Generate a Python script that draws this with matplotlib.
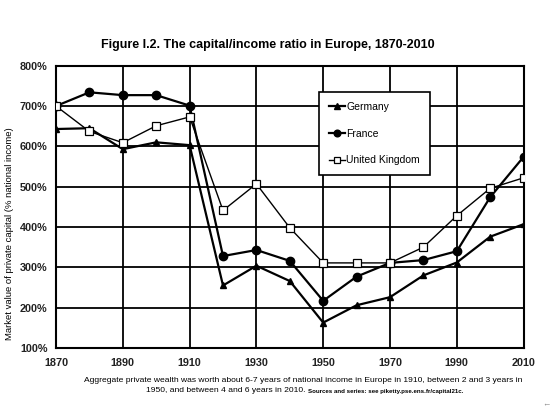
import matplotlib
matplotlib.use("Agg")
import matplotlib.pyplot as plt
from matplotlib.ticker import FuncFormatter

plt.rcParams['font.family'] = ['Liberation Sans', 'DejaVu Sans']

years = [1870, 1880, 1890, 1900, 1910, 1920, 1930, 1940, 1950, 1960, 1970, 1980, 1990, 2000, 2010]
germany = [643, 645, 593, 610, 603, 255, 304, 266, 163, 206, 226, 280, 312, 376, 407]
france = [700, 734, 727, 727, 701, 328, 343, 316, 217, 277, 311, 318, 340, 474, 574]
uk = [700, 637, 609, 651, 673, 441, 507, 398, 311, 311, 311, 350, 428, 496, 522]

title = "Figure I.2. The capital/income ratio in Europe, 1870-2010"
ylabel = "Market value of private capital (% national income)"
caption1 = "Aggregate private wealth was worth about 6-7 years of national income in Europe in 1910, between 2 and 3 years in"
caption2 = "1950, and between 4 and 6 years in 2010."
caption3 = "Sources and series: see piketty.pse.ens.fr/capital21c."
xticks = [1870, 1890, 1910, 1930, 1950, 1970, 1990, 2010]
yticks = [100, 200, 300, 400, 500, 600, 700, 800]

fig = plt.figure(figsize=(5.5, 4.13), dpi=100)
ax = fig.add_axes([56/550, 1-348/413, 467.6/550, 282.3/413])

ax.plot(years, germany, color='black', lw=1.6, marker='^', ms=5, label='Germany', zorder=3)
ax.plot(years, france, color='black', lw=1.6, marker='o', ms=6, label='France', zorder=3)
ax.plot(years, uk, color='black', lw=1.0, marker='s', ms=6, mfc='white', mec='black', mew=0.9,
        label='United Kingdom', zorder=4)

ax.set_xlim(1870, 2010)
ax.set_ylim(100, 800)
ax.set_xticks(xticks)
ax.set_yticks(yticks)
ax.yaxis.set_major_formatter(FuncFormatter(lambda v, p: f"{int(v)}%"))
ax.grid(True, color='black', lw=1.3)
ax.set_axisbelow(True)
for s in ax.spines.values():
    s.set_linewidth(1.5)
    s.set_color('black')
ax.tick_params(length=0, labelsize=7.8, colors='black')
ax.tick_params(axis='x', pad=7)
ax.tick_params(axis='y', pad=6)
for lab in ax.get_xticklabels() + ax.get_yticklabels():
    lab.set_fontweight('bold')
    lab.set_color('#222222')

fig.text(10/550, 1-233.5/413, ylabel, rotation=90, ha='center', va='center', fontsize=6.8)

leg = ax.legend(loc='upper left', bbox_to_anchor=(0.562, 0.907), fontsize=7.5,
                frameon=True, fancybox=False, framealpha=1, edgecolor='black',
                handlelength=1.6, handletextpad=0.1, labelspacing=1.6,
                borderpad=0.95, borderaxespad=0, markerscale=0.8)
leg.get_frame().set_linewidth(1.2)
leg.set_zorder(5)

fig.text(268/550, 1-45/413, title, ha='center', va='center', fontsize=9, fontweight='bold')
fig.text(303/550, 1-380/413, caption1, ha='center', va='center', fontsize=6.1)
t2 = fig.text(146/550, 1-391/413, caption2, ha='left', va='center', fontsize=6.1)
fig.canvas.draw()
bb = t2.get_window_extent()
fig.text((bb.x1 + 3)/550, 1-391/413, caption3, ha='left', va='center', fontsize=4.4, fontweight='bold')
fig.text(546/550, 1-405/413, "\u2190", ha='center', va='center', fontsize=6, color='#888888')

fig.savefig("out.png", dpi=100)
